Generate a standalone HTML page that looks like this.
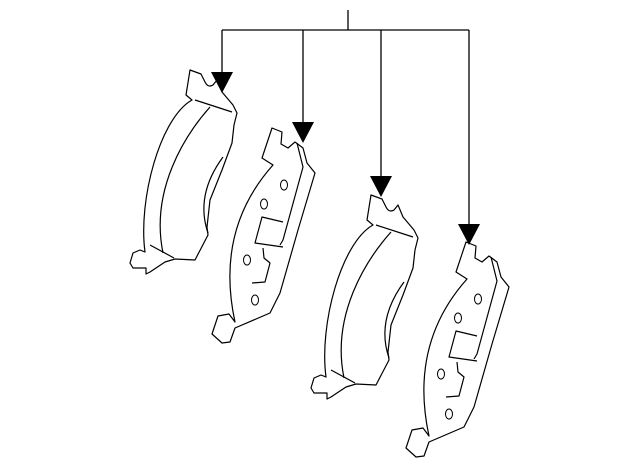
<!DOCTYPE html>
<html><head><style>html,body{margin:0;padding:0;background:#fff}</style></head>
<body>
<svg width="640" height="469" viewBox="0 0 640 469" xmlns="http://www.w3.org/2000/svg" fill="none" stroke="#000" stroke-width="1.2" stroke-linejoin="round">
<g stroke-width="1.3">
<line x1="348" y1="10" x2="348" y2="30"/>
<line x1="222" y1="30" x2="469" y2="30"/>
<line x1="222" y1="30" x2="222" y2="74"/>
<line x1="303" y1="30" x2="303" y2="124"/>
<line x1="381" y1="30" x2="381" y2="178"/>
<line x1="469" y1="30" x2="469" y2="226"/>
</g>
<g fill="#000" stroke="none">
<polygon points="211,72 233,72 222,93"/>
<polygon points="292,122 314,122 303,143"/>
<polygon points="370,176 392,176 381,197"/>
<polygon points="458,224 480,224 469,245"/>
</g>
<defs>
<g id="p1">
<path d="M190,70 L201,74 L205,82 Q208,88 213,85 L217,80 L222,92 L233,105 L237,113 L234,125 L232,143 L222,170 L210,200 L207,227 L208,235 L195,260 L175,259 L165,262 L150,272 L146,274 L146,268 L133,268 L130,263 L133,253 L140,250 L145,252 C138,200 160,118 192,100 L186,95 Z"/>
<path d="M195,100 L232,112"/>
<path d="M210,107 C185,135 150,190 163,253"/>
<path d="M223,157 Q195,195 208,233"/>
<path d="M150,245 L174,258"/>
</g>
<g id="p2">
<path d="M272,128 L282,132 L281,144 L288,148 L295,142 L303,148 L307,163 L315,173 L298,230 L280,293 L270,313 L235,328 L230,342 L222,343 L212,334 L218,316 L229,314 L235,322 Q215,230 273,165 L262,158 Z"/>
<path d="M297,143 L303,167 L283,240 L280,245"/>
<ellipse cx="284" cy="185" rx="3.5" ry="5" stroke-width="1"/><ellipse cx="264" cy="204" rx="3.5" ry="5" stroke-width="1"/>
<ellipse cx="247" cy="260" rx="3.5" ry="5" stroke-width="1"/><ellipse cx="255" cy="300" rx="3.5" ry="5" stroke-width="1"/>
<path d="M283,222 L262,217 L255,243 L283,247"/>
<path d="M263,248 L264,258 L270,263 L265,282 L252,283"/>
</g>
</defs>
<use href="#p1"/>
<use href="#p2"/>
<use href="#p1" transform="translate(181,125)"/>
<use href="#p2" transform="translate(194,114)"/>
</svg>
</body></html>
